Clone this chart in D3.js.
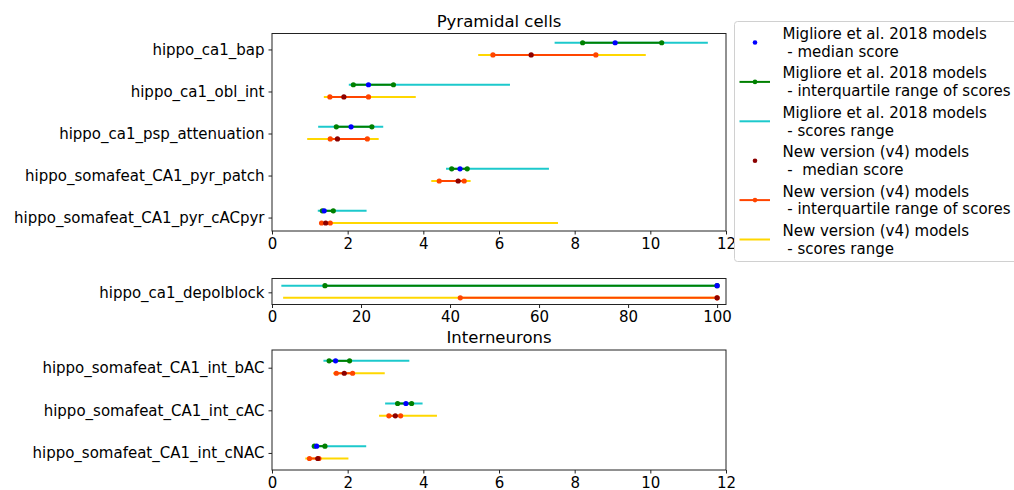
<!DOCTYPE html>
<html>
<head>
<meta charset="utf-8">
<script src="https://d3js.org/d3.v7.min.js"></script>
<style>
  body { margin: 0; background: #fff; }
  text { font-family: "DejaVu Sans", sans-serif; fill: #000; }
  .frame { fill: none; stroke: #222; stroke-width: 1; }
  .tick line { stroke: #222; }
</style>
</head>
<body>
<script>
// each row: [min, q1, median, q3, max]
const pyrCats = ["hippo_ca1_bap", "hippo_ca1_obl_int", "hippo_ca1_psp_attenuation",
                 "hippo_somafeat_CA1_pyr_patch", "hippo_somafeat_CA1_pyr_cACpyr"];
const pyrMig = [[7.47, 8.21, 9.07, 10.30, 11.52],
                [2.03, 2.15, 2.55, 3.21, 6.29],
                [1.22, 1.70, 2.09, 2.64, 2.94],
                [4.60, 4.75, 4.97, 5.16, 7.32],
                [1.21, 1.33, 1.38, 1.62, 2.50]];
const pyrNew = [[5.45, 5.84, 6.85, 8.56, 9.88],
                [1.37, 1.53, 1.90, 2.55, 3.80],
                [0.93, 1.54, 1.73, 2.52, 2.82],
                [4.21, 4.42, 4.92, 5.08, 5.25],
                [1.27, 1.31, 1.42, 1.54, 7.56]];

const depolCats = ["hippo_ca1_depolblock"];
const depolMig = [[2.1, 11.9, 100, 100, 100]];
const depolNew = [[2.5, 42.3, 100, 100, 100]];

const intCats = ["hippo_somafeat_CA1_int_bAC", "hippo_somafeat_CA1_int_cAC", "hippo_somafeat_CA1_int_cNAC"];
const intMig = [[1.36, 1.51, 1.68, 2.05, 3.63],
                [2.99, 3.32, 3.54, 3.69, 3.98],
                [1.05, 1.12, 1.18, 1.40, 2.49]];
const intNew = [[1.62, 1.70, 1.91, 2.13, 2.98],
                [2.83, 3.09, 3.26, 3.40, 4.36],
                [0.88, 0.99, 1.21, 1.24, 2.02]];

const ticks12 = [0, 2, 4, 6, 8, 10, 12];
const ticks100 = [0, 20, 40, 60, 80, 100];

const legendLabels = [
  ["Migliore et al. 2018 models", " - median score"],
  ["Migliore et al. 2018 models", " - interquartile range of scores"],
  ["Migliore et al. 2018 models", " - scores range"],
  ["New version (v4) models", " -  median score"],
  ["New version (v4) models", " - interquartile range of scores"],
  ["New version (v4) models", " - scores range"]
];

const migCol = {med: "#0000ff", iqr: "#008000", rng: "#1cc9cc"};
const newCol = {med: "#8b0000", iqr: "#ff4500", rng: "#ffd700"};

const W = 1014, H = 490, FS = 15;
const svg = d3.select("body").append("svg").attr("width", W).attr("height", H);

const left = 272, right = 726;

function panel(cats, mig, nw, opts) {
  const x = d3.scaleLinear().domain(opts.xdom).range([left, right]);
  const y = d3.scaleLinear().domain(opts.ydom).range([opts.top, opts.bottom]);
  const g = svg.append("g");

  g.append("rect").attr("class", "frame")
    .attr("x", left).attr("y", opts.top)
    .attr("width", right - left).attr("height", opts.bottom - opts.top);

  const xa = g.append("g").attr("transform", `translate(0,${opts.bottom})`)
    .call(d3.axisBottom(x).tickValues(opts.xticks).tickSize(3.5).tickPadding(3.5).tickSizeOuter(0));
  xa.select(".domain").remove();
  xa.selectAll("text").style("font-size", FS + "px").style("font-family", "DejaVu Sans");

  const ya = g.append("g").attr("transform", `translate(${left},0)`)
    .call(d3.axisLeft(y).tickValues(d3.range(cats.length)).tickFormat(i => cats[i])
      .tickSize(3.5).tickPadding(4).tickSizeOuter(0));
  ya.select(".domain").remove();
  ya.selectAll("text").style("font-size", FS + "px").style("font-family", "DejaVu Sans");

  if (opts.title) {
    g.append("text").attr("x", (left + right) / 2).attr("y", opts.top - 7)
      .attr("text-anchor", "middle").style("font-size", "16.5px").text(opts.title);
  }

  [[mig, migCol, -0.16], [nw, newCol, 0.13]].forEach(([data, col, off]) => {
    data.forEach((d, i) => {
      const yy = y(i + off);
      g.append("line").attr("x1", x(d[0])).attr("x2", x(d[4]))
        .attr("y1", yy).attr("y2", yy).attr("stroke", col.rng).attr("stroke-width", 2);
      g.append("line").attr("x1", x(d[1])).attr("x2", x(d[3]))
        .attr("y1", yy).attr("y2", yy).attr("stroke", col.iqr).attr("stroke-width", 2);
      [d[1], d[3]].forEach(v => g.append("circle").attr("cx", x(v)).attr("cy", yy)
        .attr("r", 2.6).attr("fill", col.iqr));
      g.append("circle").attr("cx", x(d[2])).attr("cy", yy).attr("r", 2.6).attr("fill", col.med);
    });
  });
}

panel(pyrCats, pyrMig, pyrNew, {xdom: [0, 12], xticks: ticks12, ydom: [-0.38, 4.32],
  top: 33.5, bottom: 231, title: "Pyramidal cells"});
panel(depolCats, depolMig, depolNew, {xdom: [0, 102], xticks: ticks100, ydom: [-0.33, 0.29],
  top: 278.5, bottom: 304.5});
panel(intCats, intMig, intNew, {xdom: [0, 12], xticks: ticks12, ydom: [-0.415, 2.4],
  top: 350, bottom: 470, title: "Interneurons"});

// legend
const lg = svg.append("g");
lg.append("rect").attr("x", 734.5).attr("y", 21.5).attr("width", 300).attr("height", 240)
  .attr("rx", 3).attr("fill", "#fff").attr("stroke", "#d0d0d0");
const handles = [
  {col: migCol.med, line: false, dot: true},
  {col: migCol.iqr, line: true, dot: true},
  {col: migCol.rng, line: true, dot: false},
  {col: newCol.med, line: false, dot: true},
  {col: newCol.iqr, line: true, dot: true},
  {col: newCol.rng, line: true, dot: false}
];
legendLabels.forEach((lab, i) => {
  const cy = 42.5 + i * 39.4;
  const h = handles[i];
  if (h.line) lg.append("line").attr("x1", 739.5).attr("x2", 770).attr("y1", cy).attr("y2", cy)
    .attr("stroke", h.col).attr("stroke-width", 2);
  if (h.dot) lg.append("circle").attr("cx", 755).attr("cy", cy).attr("r", 2.3).attr("fill", h.col);
  const t = lg.append("text").attr("x", 782.5).attr("y", cy - 3.5)
    .style("font-size", FS + "px").style("white-space", "pre");
  t.append("tspan").attr("x", 782.5).text(lab[0]);
  t.append("tspan").attr("x", 782.5).attr("dy", 17.7).text(lab[1]);
});
</script>
</body>
</html>
